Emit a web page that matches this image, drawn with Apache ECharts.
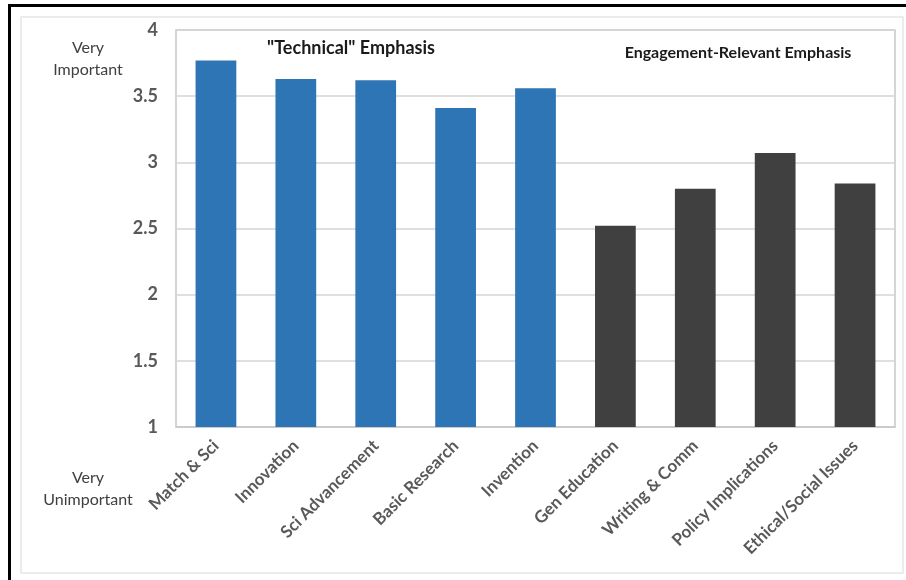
<!DOCTYPE html>
<html><head><meta charset="utf-8">
<script src="https://cdn.jsdelivr.net/npm/echarts@6/dist/echarts.min.js"></script>
<style>html,body{margin:0;padding:0;background:#fff}#c{width:906px;height:580px}</style>
</head><body><div id="c"></div>
<script>
const categories = ["Match & Sci","Innovation","Sci Advancement","Basic Research","Invention","Gen Education","Writing & Comm","Policy Implications","Ethical/Social Issues"];
const technicalValues = [3.77, 3.63, 3.62, 3.41, 3.56, null, null, null, null];
const engagementValues = [null, null, null, null, null, 2.52, 2.80, 3.07, 2.84];
const yTicks = [1, 1.5, 2, 2.5, 3, 3.5, 4];

const chart = echarts.init(document.getElementById('c'));
const font = 'Lato, "Open Sans", sans-serif';
chart.setOption({
  animation: false,
  grid: {left: 176, top: 30, right: 11, bottom: 153, show: true, borderColor: '#c8c8c8', borderWidth: 1.5, backgroundColor: '#fff'},
  graphic: [
    {type: 'rect', shape: {x: 9.5, y: 5.5, width: 906, height: 600}, style: {fill: 'none', stroke: '#000', lineWidth: 3}, z: -1},
    {type: 'rect', shape: {x: 21, y: 17, width: 882, height: 556}, style: {fill: 'none', stroke: '#e6e6e6', lineWidth: 1.5}, z: -1},
    {type: 'text', x: 88, y: 37, style: {text: 'Very\nImportant', font: '16px ' + font, fill: '#404040', align: 'center', lineHeight: 22}, z: 10},
    {type: 'text', x: 88, y: 467, style: {text: 'Very\nUnimportant', font: '16px ' + font, fill: '#404040', align: 'center', lineHeight: 22}, z: 10},
    {type: 'text', x: 351, y: 48, style: {text: '"Technical" Emphasis', font: 'bold 18px ' + font, fill: '#1a1a1a', align: 'center', verticalAlign: 'middle'}, z: 10},
    {type: 'text', x: 738, y: 53, style: {text: 'Engagement-Relevant Emphasis', font: 'bold 16px ' + font, fill: '#1a1a1a', align: 'center', verticalAlign: 'middle'}, z: 10}
  ],
  xAxis: {
    type: 'category', data: categories,
    axisLine: {show: true, lineStyle: {color: '#c8c8c8', width: 1.5}},
    axisTick: {show: false},
    axisLabel: {rotate: 45, interval: 0, margin: 16, color: '#595959', fontWeight: 'bold', fontSize: 17, fontFamily: font}
  },
  yAxis: {
    type: 'value', min: 1, max: 4, interval: 0.5,
    axisLine: {show: false}, axisTick: {show: false},
    splitLine: {lineStyle: {color: '#d4d4d4', width: 1.5}},
    axisLabel: {margin: 18, color: '#595959', fontWeight: 'bold', fontSize: 18, fontFamily: font,
      formatter: v => yTicks.includes(v) ? String(v) : ''}
  },
  series: [
    {type: 'bar', name: 'Technical', data: technicalValues, stack: 'a', barWidth: '51%', itemStyle: {color: '#2E75B6'}},
    {type: 'bar', name: 'Engagement', data: engagementValues, stack: 'a', barWidth: '51%', itemStyle: {color: '#404040'}}
  ]
});
</script></body></html>
